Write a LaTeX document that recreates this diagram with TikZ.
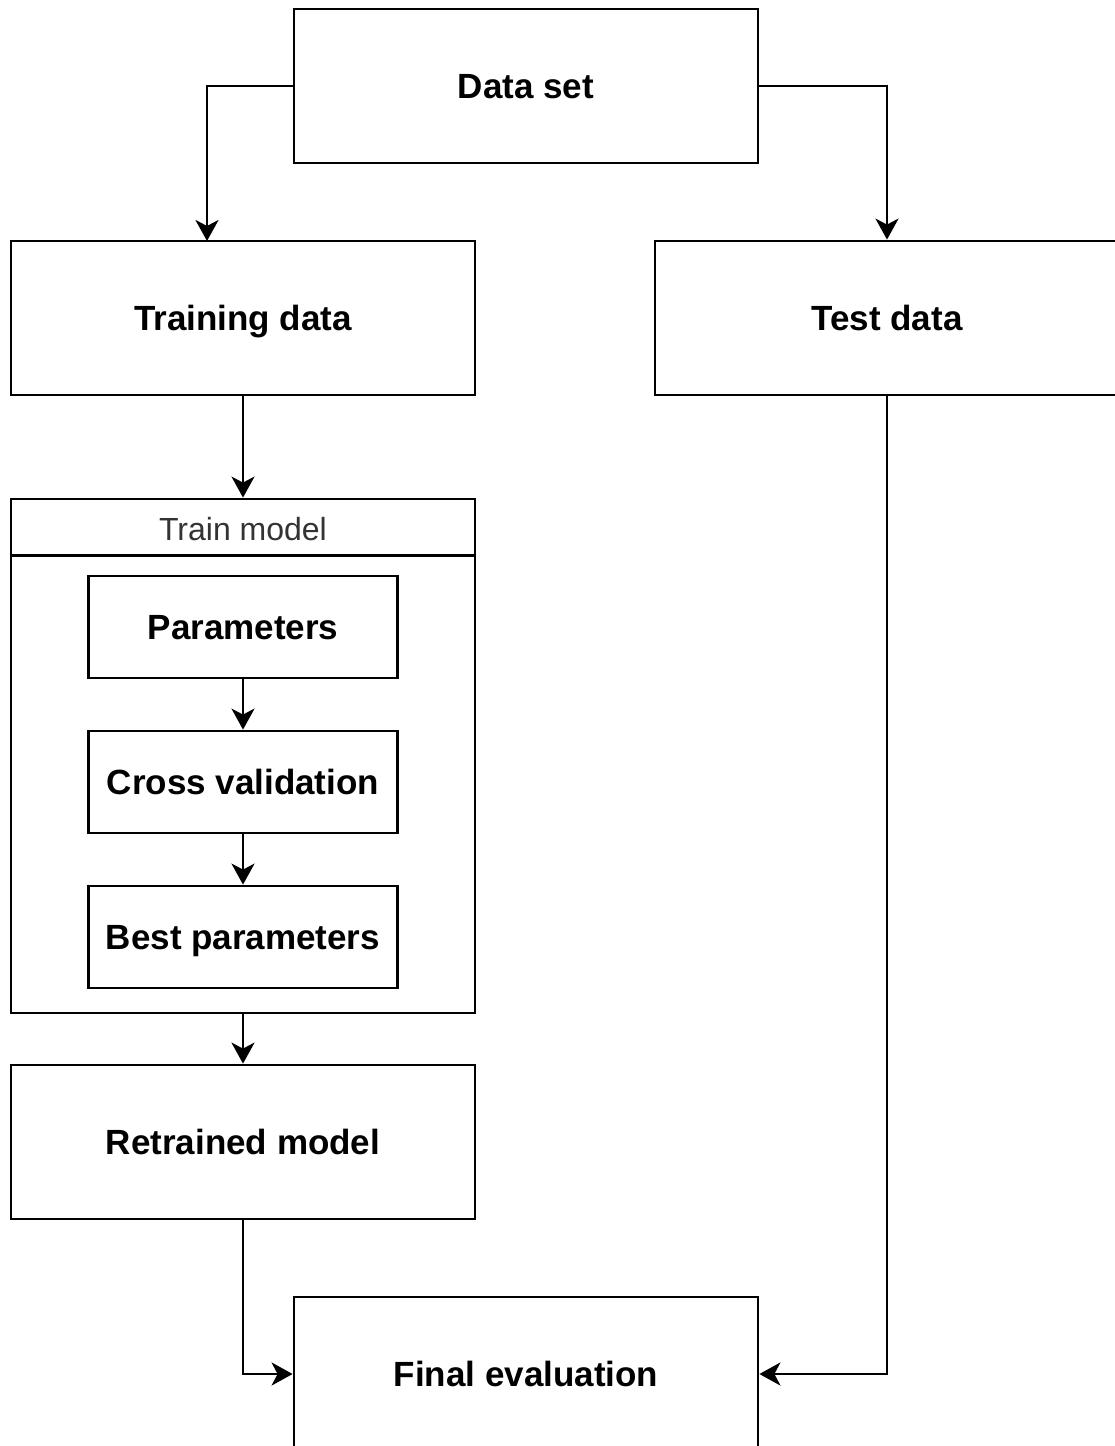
\documentclass[tikz,border=0pt]{standalone}
\usepackage{fontspec}
\setmainfont{Liberation Sans}
\usetikzlibrary{arrows.meta,calc}
\begin{document}
\begin{tikzpicture}[x=1pt,y=-1pt,
  line width=2.8pt,
  box/.style={draw, rectangle, inner sep=0pt, text=black,
    text height=25pt, text depth=0pt,
    font=\fontsize{35}{40}\selectfont\bfseries},
  bigbox/.style={box, minimum width=464pt, minimum height=154pt},
  smallbox/.style={box, minimum width=309pt, minimum height=102pt},
  arr/.style={-{Stealth[length=21pt,width=23pt,inset=6pt]}},
]
\useasboundingbox (0,0) rectangle (1115,1446);
\clip (0,0) rectangle (1115,1446);
\fill[white] (0,0) rectangle (1115,1446);

% main boxes
\node[bigbox] (dataset) at (526,86) {Data set};
\node[bigbox] (training) at (243,318) {Training data};
\node[bigbox] (test) at (887,318) {Test data};
\node[bigbox] (retrained) at (243,1142) {Retrained model};
\node[bigbox] (final) at (526,1374) {Final evaluation};

% training swimlane
\node[draw, rectangle, inner sep=0pt, minimum width=464pt, minimum height=514pt] (trainmodel) at (243,756) {};
\coordinate (hdl) at ($(trainmodel.north west)+(0,-58pt)$);
\coordinate (hdr) at ($(trainmodel.north east)+(0,-58pt)$);
\draw (hdl) -- (hdr);
\node[text=black!80, text height=23pt, text depth=0pt, font=\fontsize{32}{36}\selectfont] (traintitle) at (243,529) {Train model};

\node[smallbox] (params) at (243,627) {Parameters};
\node[smallbox] (cv) at (243,782) {Cross validation};
\node[smallbox] (best) at (243,937) {Best parameters};

% connectors
\coordinate (trainin) at (207,241);
\draw[arr] (dataset.west) -| (trainin);
\draw[arr] (dataset.east) -| (test.north);
\draw[arr] (training.south) -- (trainmodel.north);
\draw[arr] (params.south) -- (cv.north);
\draw[arr] (cv.south) -- (best.north);
\draw[arr] (trainmodel.south) -- (retrained.north);
\draw[arr] (retrained.south) |- (final.west);
\draw[arr] (test.south) |- (final.east);
\end{tikzpicture}
\end{document}
